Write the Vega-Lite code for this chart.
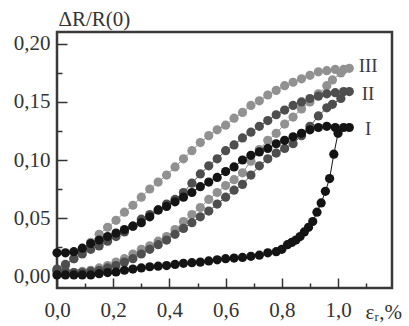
{
  "$schema": "https://vega.github.io/schema/vega-lite/v6.json",
  "autosize": "none",
  "width": 335,
  "height": 256,
  "padding": {"top": 32, "left": 57, "right": 17, "bottom": 38},
  "background": "white",
  "config": {
    "view": {"stroke": "#3a3a3a", "strokeWidth": 2.5},
    "font": "Liberation Serif"
  },
  "datasets": {
    "pts": [
      {"s":"III","o":1,"x":0.00,"y":0.004},{"s":"III","o":2,"x":0.03,"y":0.009},{"s":"III","o":3,"x":0.06,"y":0.015},{"s":"III","o":4,"x":0.09,"y":0.022},{"s":"III","o":5,"x":0.12,"y":0.029},{"s":"III","o":6,"x":0.15,"y":0.036},{"s":"III","o":7,"x":0.18,"y":0.042},{"s":"III","o":8,"x":0.21,"y":0.048},{"s":"III","o":9,"x":0.24,"y":0.055},{"s":"III","o":10,"x":0.27,"y":0.061},{"s":"III","o":11,"x":0.30,"y":0.068},{"s":"III","o":12,"x":0.33,"y":0.075},{"s":"III","o":13,"x":0.36,"y":0.081},{"s":"III","o":14,"x":0.39,"y":0.087},{"s":"III","o":15,"x":0.42,"y":0.094},{"s":"III","o":16,"x":0.45,"y":0.101},{"s":"III","o":17,"x":0.48,"y":0.108},{"s":"III","o":18,"x":0.51,"y":0.115},{"s":"III","o":19,"x":0.54,"y":0.121},{"s":"III","o":20,"x":0.57,"y":0.126},{"s":"III","o":21,"x":0.60,"y":0.130},{"s":"III","o":22,"x":0.63,"y":0.136},{"s":"III","o":23,"x":0.66,"y":0.141},{"s":"III","o":24,"x":0.69,"y":0.147},{"s":"III","o":25,"x":0.72,"y":0.151},{"s":"III","o":26,"x":0.75,"y":0.156},{"s":"III","o":27,"x":0.78,"y":0.160},{"s":"III","o":28,"x":0.81,"y":0.164},{"s":"III","o":29,"x":0.84,"y":0.167},{"s":"III","o":30,"x":0.87,"y":0.170},{"s":"III","o":31,"x":0.90,"y":0.173},{"s":"III","o":32,"x":0.93,"y":0.176},{"s":"III","o":33,"x":0.96,"y":0.177},{"s":"III","o":34,"x":0.99,"y":0.178},{"s":"III","o":35,"x":1.02,"y":0.178},{"s":"III","o":36,"x":1.04,"y":0.179},
      {"s":"III","o":37,"x":1.01,"y":0.175},{"s":"III","o":38,"x":0.98,"y":0.169},{"s":"III","o":39,"x":0.96,"y":0.164},{"s":"III","o":40,"x":0.93,"y":0.157},{"s":"III","o":41,"x":0.90,"y":0.150},{"s":"III","o":42,"x":0.87,"y":0.144},{"s":"III","o":43,"x":0.84,"y":0.137},{"s":"III","o":44,"x":0.81,"y":0.131},{"s":"III","o":45,"x":0.78,"y":0.123},{"s":"III","o":46,"x":0.75,"y":0.117},{"s":"III","o":47,"x":0.72,"y":0.109},{"s":"III","o":48,"x":0.69,"y":0.099},{"s":"III","o":49,"x":0.66,"y":0.089},{"s":"III","o":50,"x":0.63,"y":0.083},{"s":"III","o":51,"x":0.60,"y":0.078},{"s":"III","o":52,"x":0.57,"y":0.072},{"s":"III","o":53,"x":0.54,"y":0.066},{"s":"III","o":54,"x":0.51,"y":0.059},{"s":"III","o":55,"x":0.48,"y":0.053},{"s":"III","o":56,"x":0.45,"y":0.047},{"s":"III","o":57,"x":0.42,"y":0.040},{"s":"III","o":58,"x":0.39,"y":0.034},{"s":"III","o":59,"x":0.36,"y":0.030},{"s":"III","o":60,"x":0.33,"y":0.026},{"s":"III","o":61,"x":0.30,"y":0.023},{"s":"III","o":62,"x":0.27,"y":0.019},{"s":"III","o":63,"x":0.24,"y":0.015},{"s":"III","o":64,"x":0.21,"y":0.012},{"s":"III","o":65,"x":0.18,"y":0.009},{"s":"III","o":66,"x":0.15,"y":0.007},{"s":"III","o":67,"x":0.12,"y":0.005},{"s":"III","o":68,"x":0.09,"y":0.004},{"s":"III","o":69,"x":0.06,"y":0.003},{"s":"III","o":70,"x":0.03,"y":0.003},{"s":"III","o":71,"x":0.00,"y":0.003},

      {"s":"II","o":1,"x":0.00,"y":0.006},{"s":"II","o":2,"x":0.03,"y":0.010},{"s":"II","o":3,"x":0.06,"y":0.015},{"s":"II","o":4,"x":0.09,"y":0.019},{"s":"II","o":5,"x":0.12,"y":0.023},{"s":"II","o":6,"x":0.15,"y":0.026},{"s":"II","o":7,"x":0.18,"y":0.030},{"s":"II","o":8,"x":0.21,"y":0.034},{"s":"II","o":9,"x":0.24,"y":0.038},{"s":"II","o":10,"x":0.27,"y":0.043},{"s":"II","o":11,"x":0.30,"y":0.049},{"s":"II","o":12,"x":0.33,"y":0.053},{"s":"II","o":13,"x":0.36,"y":0.057},{"s":"II","o":14,"x":0.39,"y":0.062},{"s":"II","o":15,"x":0.42,"y":0.066},{"s":"II","o":16,"x":0.45,"y":0.072},{"s":"II","o":17,"x":0.48,"y":0.080},{"s":"II","o":18,"x":0.51,"y":0.088},{"s":"II","o":19,"x":0.54,"y":0.095},{"s":"II","o":20,"x":0.57,"y":0.101},{"s":"II","o":21,"x":0.60,"y":0.108},{"s":"II","o":22,"x":0.63,"y":0.113},{"s":"II","o":23,"x":0.66,"y":0.119},{"s":"II","o":24,"x":0.69,"y":0.124},{"s":"II","o":25,"x":0.72,"y":0.129},{"s":"II","o":26,"x":0.75,"y":0.134},{"s":"II","o":27,"x":0.78,"y":0.139},{"s":"II","o":28,"x":0.81,"y":0.143},{"s":"II","o":29,"x":0.84,"y":0.147},{"s":"II","o":30,"x":0.87,"y":0.150},{"s":"II","o":31,"x":0.90,"y":0.153},{"s":"II","o":32,"x":0.93,"y":0.155},{"s":"II","o":33,"x":0.96,"y":0.157},{"s":"II","o":34,"x":0.99,"y":0.158},{"s":"II","o":35,"x":1.02,"y":0.159},{"s":"II","o":36,"x":1.04,"y":0.159},
      {"s":"II","o":37,"x":1.01,"y":0.153},{"s":"II","o":38,"x":0.98,"y":0.148},{"s":"II","o":39,"x":0.96,"y":0.145},{"s":"II","o":40,"x":0.93,"y":0.138},{"s":"II","o":41,"x":0.90,"y":0.129},{"s":"II","o":42,"x":0.87,"y":0.121},{"s":"II","o":43,"x":0.84,"y":0.114},{"s":"II","o":44,"x":0.81,"y":0.110},{"s":"II","o":45,"x":0.78,"y":0.106},{"s":"II","o":46,"x":0.75,"y":0.101},{"s":"II","o":47,"x":0.72,"y":0.095},{"s":"II","o":48,"x":0.69,"y":0.087},{"s":"II","o":49,"x":0.66,"y":0.079},{"s":"II","o":50,"x":0.63,"y":0.074},{"s":"II","o":51,"x":0.60,"y":0.068},{"s":"II","o":52,"x":0.57,"y":0.062},{"s":"II","o":53,"x":0.54,"y":0.056},{"s":"II","o":54,"x":0.51,"y":0.051},{"s":"II","o":55,"x":0.48,"y":0.046},{"s":"II","o":56,"x":0.45,"y":0.041},{"s":"II","o":57,"x":0.42,"y":0.036},{"s":"II","o":58,"x":0.39,"y":0.031},{"s":"II","o":59,"x":0.36,"y":0.027},{"s":"II","o":60,"x":0.33,"y":0.023},{"s":"II","o":61,"x":0.30,"y":0.019},{"s":"II","o":62,"x":0.27,"y":0.015},{"s":"II","o":63,"x":0.24,"y":0.012},{"s":"II","o":64,"x":0.21,"y":0.009},{"s":"II","o":65,"x":0.18,"y":0.007},{"s":"II","o":66,"x":0.15,"y":0.005},{"s":"II","o":67,"x":0.12,"y":0.004},{"s":"II","o":68,"x":0.09,"y":0.003},{"s":"II","o":69,"x":0.06,"y":0.003},{"s":"II","o":70,"x":0.03,"y":0.004},{"s":"II","o":71,"x":0.00,"y":0.005},

      {"s":"I","o":1,"x":0.00,"y":0.020},{"s":"I","o":2,"x":0.03,"y":0.020},{"s":"I","o":3,"x":0.06,"y":0.021},{"s":"I","o":4,"x":0.09,"y":0.024},{"s":"I","o":5,"x":0.12,"y":0.028},{"s":"I","o":6,"x":0.15,"y":0.031},{"s":"I","o":7,"x":0.18,"y":0.034},{"s":"I","o":8,"x":0.21,"y":0.037},{"s":"I","o":9,"x":0.24,"y":0.040},{"s":"I","o":10,"x":0.27,"y":0.043},{"s":"I","o":11,"x":0.30,"y":0.046},{"s":"I","o":12,"x":0.33,"y":0.051},{"s":"I","o":13,"x":0.36,"y":0.057},{"s":"I","o":14,"x":0.39,"y":0.060},{"s":"I","o":15,"x":0.42,"y":0.064},{"s":"I","o":16,"x":0.45,"y":0.068},{"s":"I","o":17,"x":0.48,"y":0.072},{"s":"I","o":18,"x":0.51,"y":0.077},{"s":"I","o":19,"x":0.54,"y":0.081},{"s":"I","o":20,"x":0.57,"y":0.085},{"s":"I","o":21,"x":0.60,"y":0.090},{"s":"I","o":22,"x":0.63,"y":0.094},{"s":"I","o":23,"x":0.66,"y":0.100},{"s":"I","o":24,"x":0.69,"y":0.104},{"s":"I","o":25,"x":0.72,"y":0.107},{"s":"I","o":26,"x":0.75,"y":0.110},{"s":"I","o":27,"x":0.78,"y":0.114},{"s":"I","o":28,"x":0.81,"y":0.117},{"s":"I","o":29,"x":0.84,"y":0.120},{"s":"I","o":30,"x":0.87,"y":0.123},{"s":"I","o":31,"x":0.90,"y":0.126},{"s":"I","o":32,"x":0.93,"y":0.128},{"s":"I","o":33,"x":0.96,"y":0.129},{"s":"I","o":34,"x":0.99,"y":0.128},{"s":"I","o":35,"x":1.02,"y":0.128},{"s":"I","o":36,"x":1.04,"y":0.128},
      {"s":"I","o":37,"x":1.00,"y":0.123},{"s":"I","o":38,"x":0.985,"y":0.105},{"s":"I","o":39,"x":0.97,"y":0.084},{"s":"I","o":40,"x":0.955,"y":0.073},{"s":"I","o":41,"x":0.94,"y":0.063},{"s":"I","o":42,"x":0.925,"y":0.055},{"s":"I","o":43,"x":0.91,"y":0.047},{"s":"I","o":44,"x":0.895,"y":0.042},{"s":"I","o":45,"x":0.88,"y":0.038},{"s":"I","o":46,"x":0.865,"y":0.034},{"s":"I","o":47,"x":0.85,"y":0.031},{"s":"I","o":48,"x":0.835,"y":0.029},{"s":"I","o":49,"x":0.82,"y":0.027},{"s":"I","o":50,"x":0.80,"y":0.023},{"s":"I","o":51,"x":0.78,"y":0.021},{"s":"I","o":52,"x":0.75,"y":0.020},{"s":"I","o":53,"x":0.72,"y":0.018},{"s":"I","o":54,"x":0.69,"y":0.017},{"s":"I","o":55,"x":0.66,"y":0.016},{"s":"I","o":56,"x":0.63,"y":0.0155},{"s":"I","o":57,"x":0.60,"y":0.015},{"s":"I","o":58,"x":0.57,"y":0.014},{"s":"I","o":59,"x":0.54,"y":0.013},{"s":"I","o":60,"x":0.51,"y":0.012},{"s":"I","o":61,"x":0.48,"y":0.0115},{"s":"I","o":62,"x":0.45,"y":0.011},{"s":"I","o":63,"x":0.42,"y":0.010},{"s":"I","o":64,"x":0.39,"y":0.009},{"s":"I","o":65,"x":0.36,"y":0.0085},{"s":"I","o":66,"x":0.33,"y":0.008},{"s":"I","o":67,"x":0.30,"y":0.007},{"s":"I","o":68,"x":0.27,"y":0.006},{"s":"I","o":69,"x":0.24,"y":0.005},{"s":"I","o":70,"x":0.21,"y":0.0035},{"s":"I","o":71,"x":0.18,"y":0.003},{"s":"I","o":72,"x":0.15,"y":0.002},{"s":"I","o":73,"x":0.12,"y":0.001},{"s":"I","o":74,"x":0.09,"y":0.001},{"s":"I","o":75,"x":0.06,"y":0.001},{"s":"I","o":76,"x":0.03,"y":0.001},{"s":"I","o":77,"x":0.00,"y":0.001}
    ],
    "labels": [
      {"s":"III","x":1.107,"y":0.181},
      {"s":"II","x":1.107,"y":0.157},
      {"s":"I","x":1.107,"y":0.127}
    ]
  },
  "layer": [
    {
      "data": {"name": "pts"},
      "mark": {"type": "line", "strokeWidth": 1, "clip": false},
      "encoding": {
        "x": {"field": "x", "type": "quantitative"},
        "y": {"field": "y", "type": "quantitative"},
        "order": {"field": "o", "type": "quantitative"},
        "detail": {"field": "s", "type": "nominal"},
        "color": {"field": "s", "type": "nominal", "scale": {"domain": ["III","II","I"], "range": ["#919191","#4e4e4e","#141414"]}, "legend": null}
      }
    },
    {
      "data": {"name": "pts"},
      "mark": {"type": "point", "filled": true, "opacity": 1, "size": 85},
      "encoding": {
        "x": {"field": "x", "type": "quantitative"},
        "y": {"field": "y", "type": "quantitative"},
        "color": {"field": "s", "type": "nominal", "scale": {"domain": ["III","II","I"], "range": ["#919191","#4e4e4e","#141414"]}, "legend": null}
      }
    },
    {
      "data": {"name": "labels"},
      "mark": {"type": "text", "font": "Liberation Serif", "fontSize": 19, "color": "#3a3a3a", "align": "center", "baseline": "middle"},
      "encoding": {
        "x": {"field": "x", "type": "quantitative"},
        "y": {"field": "y", "type": "quantitative"},
        "text": {"field": "s", "type": "nominal"}
      }
    }
  ],
  "encoding": {
    "x": {
      "field": "x", "type": "quantitative",
      "scale": {"domain": [0, 1.192], "nice": false, "zero": false},
      "axis": {
        "values": [0, 0.1, 0.2, 0.3, 0.4, 0.5, 0.6, 0.7, 0.8, 0.9, 1.0, 1.1],
        "domain": false, "grid": false,
        "labelExpr": "round(datum.value*10)%2==0 ? replace(format(datum.value,'.1f'),'.',',') : ''",
        "labelFont": "Liberation Serif", "labelFontSize": 21, "labelColor": "#333",
        "labelFlush": false, "labelOverlap": false, "labelPadding": 21,
        "tickColor": "#333", "tickWidth": 1.5,
        "tickSize": {"condition": {"test": "round(datum.value*10)%2==0", "value": -10}, "value": -5},
        "title": "εᵣ,%", "titleFont": "Liberation Serif", "titleFontSize": 21, "titleFontWeight": "normal", "titleColor": "#333",
        "titleAlign": "left", "titleBaseline": "alphabetic", "titleX": 308, "titleY": 30
      }
    },
    "y": {
      "field": "y", "type": "quantitative",
      "scale": {"domain": [-0.0103, 0.2103], "nice": false, "zero": false},
      "axis": {
        "values": [0, 0.025, 0.05, 0.075, 0.1, 0.125, 0.15, 0.175, 0.2],
        "domain": false, "grid": false,
        "labelExpr": "round(datum.value*40)%2==0 ? replace(format(datum.value,'.2f'),'.',',') : ''",
        "labelFont": "Liberation Serif", "labelFontSize": 21, "labelColor": "#333",
        "labelFlush": false, "labelOverlap": false, "labelPadding": 17,
        "tickColor": "#333", "tickWidth": 1.5,
        "tickSize": {"condition": {"test": "round(datum.value*40)%2==0", "value": -10}, "value": -5},
        "title": "ΔR/R(0)", "titleFont": "Liberation Serif", "titleFontSize": 21, "titleFontWeight": "normal", "titleColor": "#333",
        "titleAngle": 0, "titleAlign": "left", "titleBaseline": "alphabetic", "titleX": 1, "titleY": -7
      }
    }
  }
}
